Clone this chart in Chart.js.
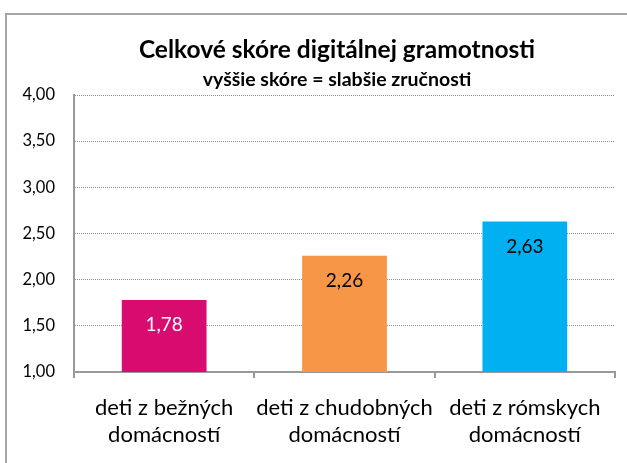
<!DOCTYPE html>
<html>
<head>
<meta charset="utf-8">
<script src="https://cdn.jsdelivr.net/npm/chart.js@4/dist/chart.umd.min.js"></script>
<style>
  html, body { margin: 0; padding: 0; background: #fff; }
  #wrap { width: 627px; height: 463px; position: relative; }
</style>
</head>
<body>
<div id="wrap"><canvas id="c" width="627" height="463"></canvas></div>
<script>
const titleText = 'Celkové skóre digitálnej gramotnosti';
const subtitleText = 'vyššie skóre = slabšie zručnosti';
const categories = [
  ['deti z bežných', 'domácností'],
  ['deti z chudobných', 'domácností'],
  ['deti z rómskych', 'domácností']
];
const values = [1.78, 2.26, 2.63];
const barColors = ['#D80B6F', '#F79646', '#00B0F0'];
const labelColors = ['#FFFFFF', '#000000', '#000000'];
const yMin = 1, yMax = 4, yStep = 0.5;

const FONT = 'Lato, "Open Sans", sans-serif';

const fmt = v => Number(v).toFixed(2).replace('.', ',');

const frame = {
  id: 'frame',
  beforeDraw(chart) {
    const ctx = chart.ctx;
    ctx.save();
    ctx.fillStyle = '#fff';
    ctx.fillRect(0, 0, chart.width, chart.height);
    ctx.strokeStyle = '#a6a6a6';
    ctx.lineWidth = 2;
    ctx.beginPath();
    ctx.moveTo(6, chart.height);
    ctx.lineTo(6, 14);
    ctx.lineTo(chart.width, 14);
    ctx.stroke();
    ctx.restore();
  }
};

const titles = {
  id: 'titles',
  afterDraw(chart) {
    const ctx = chart.ctx;
    ctx.save();
    ctx.fillStyle = '#000';
    ctx.textAlign = 'center';
    ctx.textBaseline = 'middle';
    ctx.font = 'bold 24.5px ' + FONT;
    ctx.fillText(titleText, 337, 50);
    ctx.font = 'bold 19.5px ' + FONT;
    ctx.fillText(subtitleText, 337, 80);
    ctx.restore();
  }
};

const valueLabels = {
  id: 'valueLabels',
  afterDatasetsDraw(chart) {
    const ctx = chart.ctx;
    const meta = chart.getDatasetMeta(0);
    ctx.save();
    ctx.font = '19px ' + FONT;
    ctx.textAlign = 'center';
    ctx.textBaseline = 'middle';
    meta.data.forEach((el, i) => {
      ctx.fillStyle = labelColors[i];
      ctx.fillText(fmt(values[i]), el.x, el.y + 25);
    });
    ctx.restore();
  }
};

new Chart(document.getElementById('c'), {
  type: 'bar',
  data: {
    labels: categories,
    datasets: [{
      data: values,
      backgroundColor: barColors,
      borderWidth: 0,
      categoryPercentage: 1,
      barPercentage: 0.47
    }]
  },
  options: {
    responsive: false,
    animation: false,
    devicePixelRatio: 1,
    layout: { padding: { left: 0, right: 12, top: 95, bottom: 0 } },
    plugins: {
      legend: { display: false },
      tooltip: { enabled: false },
      title: { display: false },
      subtitle: { display: false }
    },
    scales: {
      x: {
        grid: {
          offset: true,
          drawOnChartArea: false,
          drawTicks: true,
          tickLength: 6,
          color: '#999',
          lineWidth: 2
        },
        border: { color: '#999', width: 2 },
        ticks: {
          color: '#000',
          font: { family: FONT, size: 22, lineHeight: 1.23 },
          padding: 16,
          maxRotation: 0,
          autoSkip: false
        },
        afterFit(scale) { scale.height = 91; }
      },
      y: {
        min: yMin,
        max: yMax,
        grid: {
          drawTicks: false,
          color: '#8c8c8c',
          lineWidth: 1
        },
        border: { color: '#999', width: 2, dash: [1, 1] },
        ticks: {
          stepSize: yStep,
          color: '#000',
          font: { family: FONT, size: 16.5 },
          padding: 19,
          callback: v => fmt(v)
        },
        afterFit(scale) { scale.width = 74; }
      }
    }
  },
  plugins: [frame, titles, valueLabels]
});
</script>
</body>
</html>
